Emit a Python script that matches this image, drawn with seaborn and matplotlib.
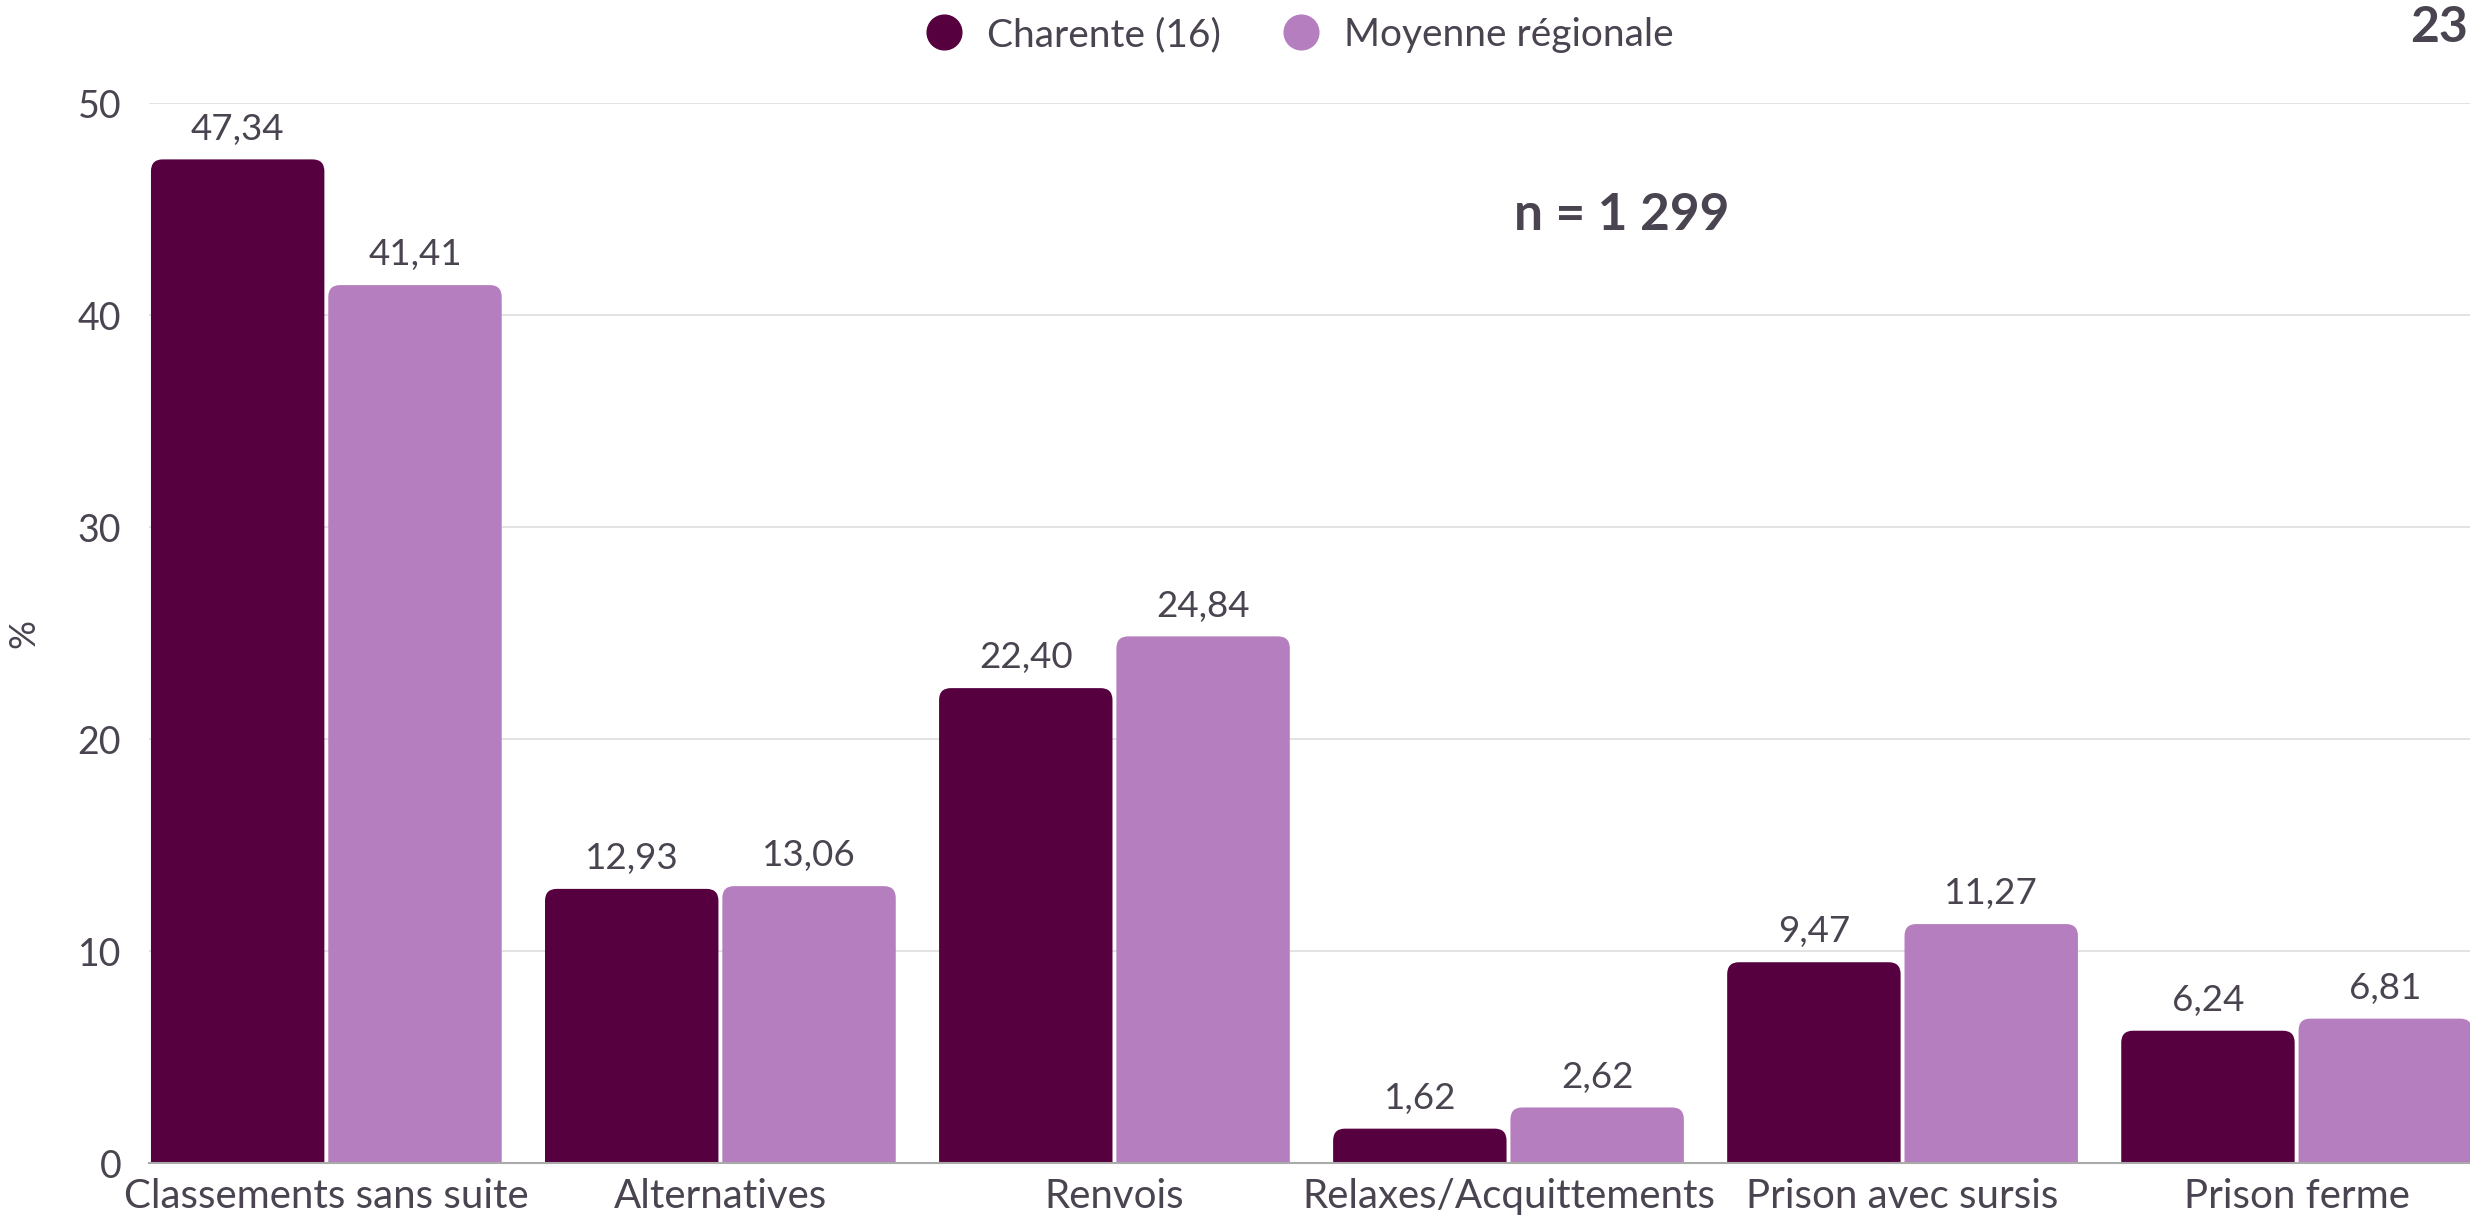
import numpy as np
import pandas as pd
import seaborn as sns
from matplotlib import pyplot as plt
from matplotlib.path import Path
from matplotlib.patches import PathPatch
from matplotlib.lines import Line2D

categories = ['Classements sans suite', 'Alternatives', 'Renvois',
              'Relaxes/Acquittements', 'Prison avec sursis', 'Prison ferme']
charente = [47.34, 12.93, 22.40, 1.62, 9.47, 6.24]
regionale = [41.41, 13.06, 24.84, 2.62, 11.27, 6.81]
series = ['Charente (16)', 'Moyenne régionale']
colors = ['#560040', '#b57ebf']
txt = '#4a4450'

df = pd.DataFrame({
    'cat': categories * 2,
    'val': charente + regionale,
    'serie': [series[0]] * len(categories) + [series[1]] * len(categories),
})

sns.set_style('white')
plt.rcParams['font.family'] = ['Lato', 'DejaVu Sans']

fig = plt.figure(figsize=(24.7, 12.15), dpi=100)
ax = fig.add_axes([149 / 2470, 1 - 1163 / 1215, 1 - 149 / 2470, (1163 - 103) / 1215])

sns.barplot(data=df, x='cat', y='val', hue='serie', palette=colors,
            width=0.9, gap=0.022, legend=False, ax=ax, linewidth=0, saturation=1)

ax.set_xlim(-0.45, 5.44)
ax.set_ylim(0, 50)

# rounded top corners
rx = 0.03
ry = 12 * 50 / 1060
for p in list(ax.patches):
    x0 = p.get_x()
    x1 = x0 + p.get_width()
    h = p.get_height()
    verts = [(x0, 0), (x0, h - ry), (x0, h), (x0 + rx, h), (x1 - rx, h),
             (x1, h), (x1, h - ry), (x1, 0), (x0, 0)]
    codes = [Path.MOVETO, Path.LINETO, Path.CURVE3, Path.CURVE3, Path.LINETO,
             Path.CURVE3, Path.CURVE3, Path.LINETO, Path.CLOSEPOLY]
    ax.add_patch(PathPatch(Path(verts, codes), facecolor=p.get_facecolor(),
                           lw=0, zorder=3))
    p.set_visible(False)
    ax.annotate(f'{h:.2f}'.replace('.', ','), (x0 + p.get_width() / 2, h),
                xytext=(0, 10), textcoords='offset points', ha='center', va='bottom',
                fontsize=26.5, color=txt)

ax.set_yticks([0, 10, 20, 30, 40, 50])
ax.grid(axis='y', color='#dedede', lw=1.2, zorder=0)
ax.set_axisbelow(True)
for s in ['top', 'right', 'left']:
    ax.spines[s].set_visible(False)
ax.spines['bottom'].set_color('#aaaaaa')
ax.spines['bottom'].set_linewidth(1.5)
ax.spines['bottom'].set_zorder(4)
ax.tick_params(axis='both', length=0, labelcolor=txt)
ax.tick_params(axis='y', pad=20, labelsize=27)
ax.tick_params(axis='x', pad=11, labelsize=29)
ax.set_xlabel('')
ax.set_ylabel('%', fontsize=26, color=txt)
ax.yaxis.set_label_coords(-0.047, 0.5)

handles = [Line2D([], [], marker='o', ls='', markersize=25, color=c) for c in colors]
fig.legend(handles, series, loc='center', bbox_to_anchor=(0.522, 1 - 35 / 1215),
           ncol=2, frameon=False, fontsize=28, labelcolor=txt, handletextpad=0.1,
           columnspacing=1.05)

fig.text(1622 / 2470, 1 - 216 / 1215, 'n = 1 299', ha='center', va='center',
         fontsize=37, fontweight='bold', color=txt)
fig.text(0.999, 1 - 28 / 1215, '23', ha='right', va='center',
         fontsize=36, fontweight='bold', color=txt)

fig.savefig('out.png', dpi=100)
